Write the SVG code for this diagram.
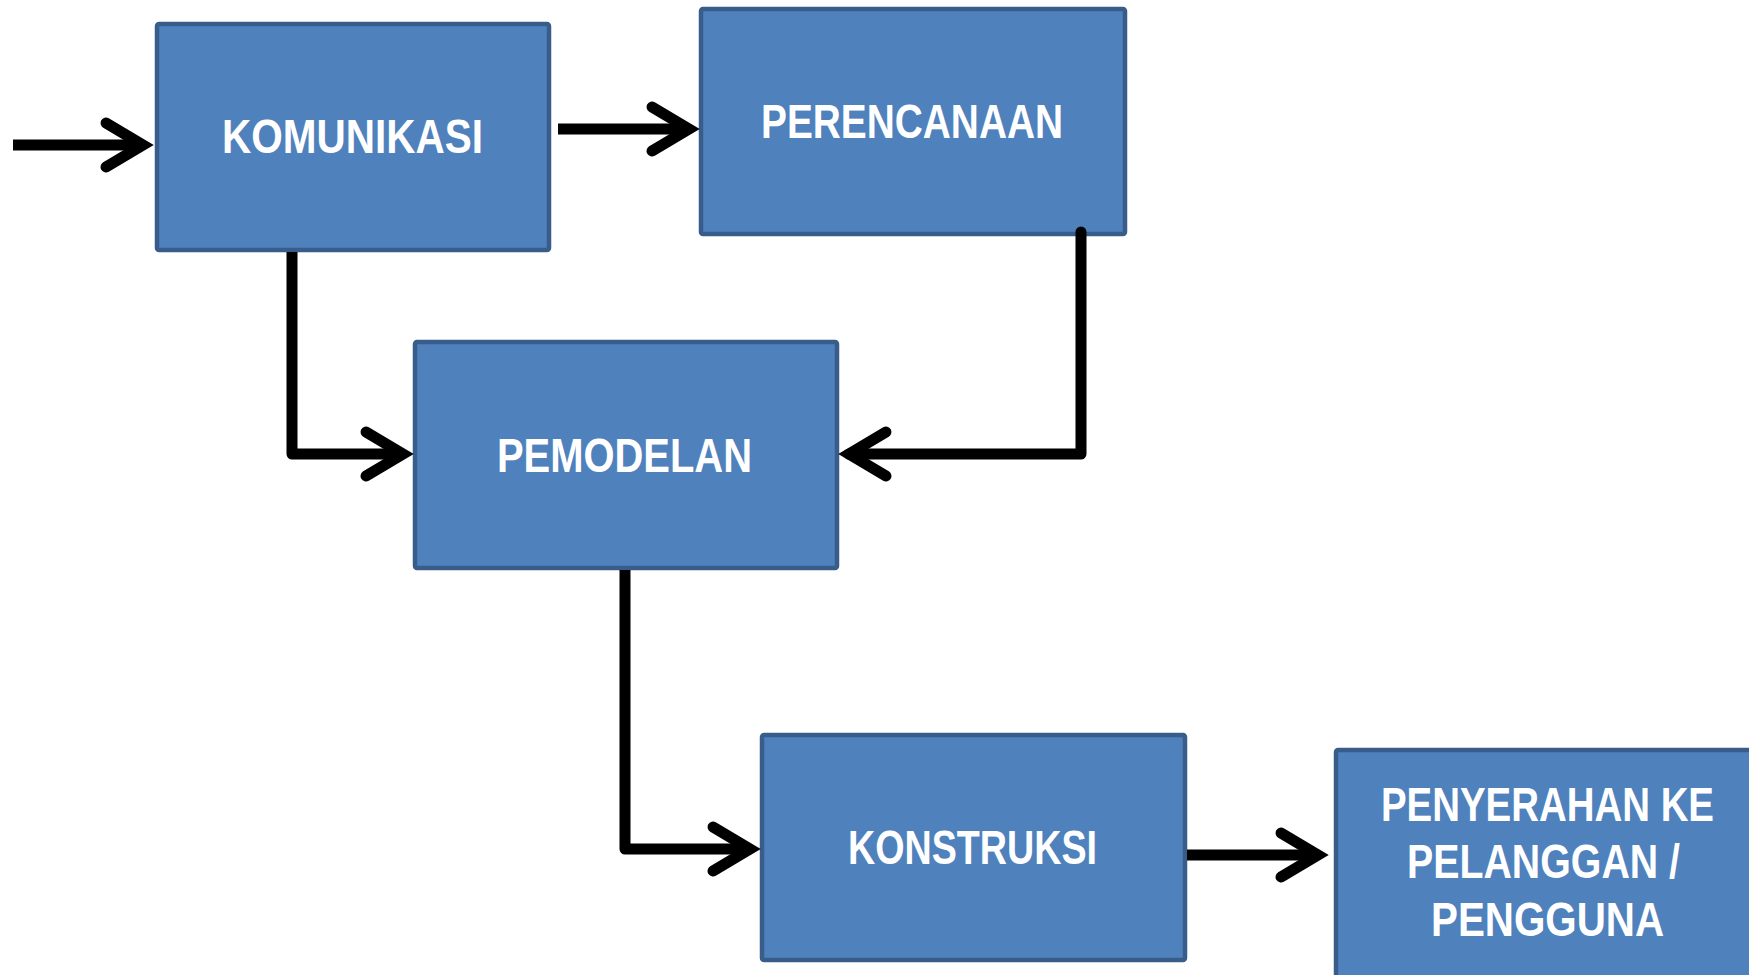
<svg xmlns="http://www.w3.org/2000/svg" width="1749" height="975" viewBox="0 0 1749 975">
<style>
.box{fill:#4F81BD;stroke:#385D8A;stroke-width:4.5}
.lbl{fill:#FFFFFF;font-family:"Liberation Sans",Arial,sans-serif;font-weight:bold;font-size:49px}
.con{fill:none;stroke:#000;stroke-width:11;stroke-linejoin:round;marker-end:url(#chev)}
</style>
<defs>
<marker id="chev" markerUnits="userSpaceOnUse" viewBox="-60 -40 80 80" markerWidth="80" markerHeight="80" refX="0" refY="0" orient="auto" overflow="visible">
<path d="M-37,-22 L0,0 L-37,22" fill="none" stroke="#000" stroke-width="11" stroke-linecap="round" stroke-linejoin="miter" stroke-miterlimit="10"/>
</marker>
</defs>
<rect width="1749" height="975" fill="#FFFFFF"/>
<g id="komunikasi">
<rect class="box" x="157" y="24" width="392" height="226" rx="2"/>
<text class="lbl" x="222" y="153" textLength="261" lengthAdjust="spacingAndGlyphs">KOMUNIKASI</text>
</g>
<g id="perencanaan">
<rect class="box" x="701" y="9" width="424" height="225" rx="2"/>
<text class="lbl" x="761" y="138" textLength="302" lengthAdjust="spacingAndGlyphs">PERENCANAAN</text>
</g>
<g id="pemodelan">
<rect class="box" x="415" y="342" width="422" height="226" rx="2"/>
<text class="lbl" x="497" y="472" textLength="255" lengthAdjust="spacingAndGlyphs">PEMODELAN</text>
</g>
<g id="konstruksi">
<rect class="box" x="762" y="735" width="423" height="225" rx="2"/>
<text class="lbl" x="848" y="864" textLength="249" lengthAdjust="spacingAndGlyphs">KONSTRUKSI</text>
</g>
<g id="penyerahan">
<rect class="box" x="1336" y="750" width="450" height="260" rx="2"/>
<text class="lbl" x="1381" y="821" textLength="333" lengthAdjust="spacingAndGlyphs">PENYERAHAN KE</text>
<text class="lbl" x="1407" y="878" textLength="273" lengthAdjust="spacingAndGlyphs">PELANGGAN /</text>
<text class="lbl" x="1431" y="936" textLength="233" lengthAdjust="spacingAndGlyphs">PENGGUNA</text>
</g>
<g id="connectors">
<path class="con" d="M13,145 H143"/>
<path class="con" d="M558,129 H689"/>
<path class="con" d="M292,252 V454 H403"/>
<path class="con" d="M1081,232 V454 H849" stroke-linecap="round"/>
<path class="con" d="M625,570 V849 H750"/>
<path class="con" d="M1187,855 H1318"/>
</g>
</svg>
